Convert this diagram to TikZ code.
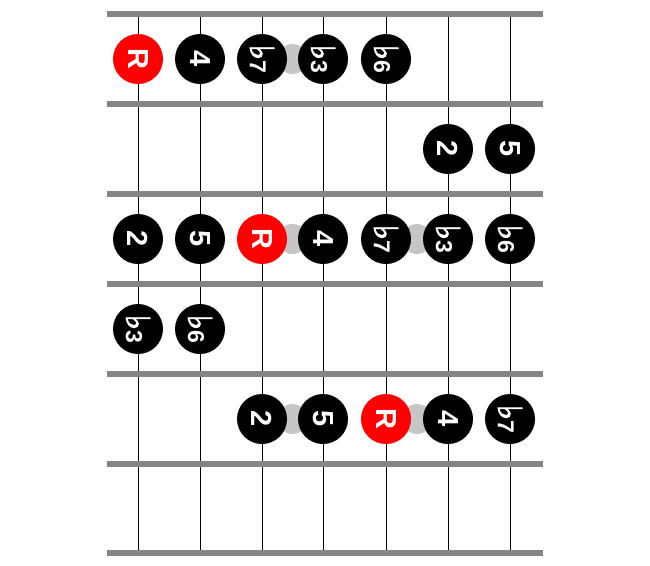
\documentclass[tikz,border=0pt]{standalone}
\usepackage{fontspec}
\setmainfont{Liberation Sans}
\newfontfamily\flatfont{DejaVu Sans}[FakeBold=2.5]
\usetikzlibrary{backgrounds,calc}

\definecolor{fretgray}{HTML}{858585}
\definecolor{slidegray}{HTML}{C6C6C6}
\definecolor{rootred}{HTML}{FF0000}
\newcommand{\fl}{{\flatfont\bfseries\fontsize{33}{33}\selectfont ♭}}

\begin{document}
\begin{tikzpicture}[x=1pt,y=-1pt]
	\tikzstyle{fret} = [draw=fretgray, line width=5.5pt];
	\tikzstyle{gtrstring} = [draw=black, line width=0.9pt];
	\tikzstyle{note} = [circle, fill=black, minimum size=50pt, inner sep=0pt, text=white, rotate=-90, font=\fontsize{29}{29}\selectfont\bfseries];
	\tikzstyle{twochar} = [note, font=\fontsize{23}{23}\selectfont\bfseries];
	\tikzstyle{root} = [note, fill=rootred];
	\tikzstyle{slide} = [circle, fill=slidegray, minimum size=30pt, inner sep=0pt];

	\useasboundingbox (0,0) rectangle (650,565);

	% strings and frets
	\foreach \x in {138,200,262,323,386,448,510}
		\draw[gtrstring] (\x,14) -- (\x,553);
	\foreach \y in {14,104,194,284,374,464,553}
		\draw[fret] (107,\y) -- (543,\y);

	% notes: row/string/label/style
	\foreach \r/\s/\l/\st in {1/1/R/root, 1/2/4/note, 1/3/\fl7/twochar, 1/4/\fl3/twochar, 1/5/\fl6/twochar,
		2/6/2/note, 2/7/5/note,
		3/1/2/note, 3/2/5/note, 3/3/R/root, 3/4/4/note, 3/5/\fl7/twochar, 3/6/\fl3/twochar, 3/7/\fl6/twochar,
		4/1/\fl3/twochar, 4/2/\fl6/twochar,
		5/3/2/note, 5/4/5/note, 5/5/R/root, 5/6/4/note, 5/7/\fl7/twochar}{%
		\pgfmathsetmacro{\xx}{{138,200,262,323,386,448,510}[\s-1]}
		\node[\st] (r\r s\s) at (\xx,{59+90*(\r-1)}) {\l};
	}

	% slides behind the notes
	\begin{scope}[on background layer]
		\foreach \a/\b [count=\i] in {r1s3/r1s4, r3s3/r3s4, r3s5/r3s6, r5s3/r5s4, r5s5/r5s6}
			\node[slide] (slide\i) at ($(\a)!0.5!(\b)$) {};
	\end{scope}
\end{tikzpicture}
\end{document}
